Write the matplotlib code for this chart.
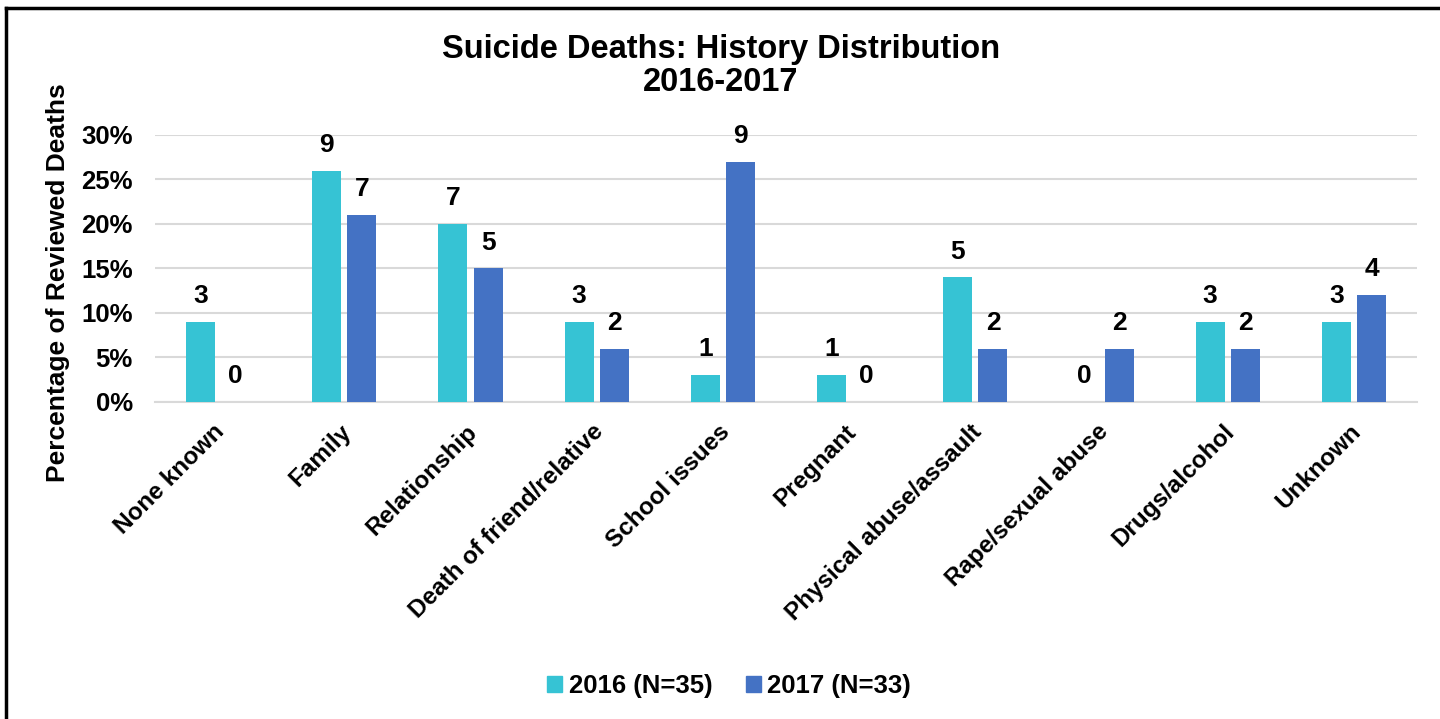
import matplotlib
matplotlib.use("Agg")
import matplotlib.pyplot as plt
import matplotlib.transforms as mtransforms
import numpy as np
from matplotlib.ticker import FuncFormatter
from matplotlib.lines import Line2D
from matplotlib.patches import Patch

plt.rcParams['font.family'] = ['Liberation Sans', 'DejaVu Sans']

categories = ["None known", "Family", "Relationship", "Death of friend/relative",
              "School issues", "Pregnant", "Physical abuse/assault",
              "Rape/sexual abuse", "Drugs/alcohol", "Unknown"]
pct_2016 = [9, 26, 20, 9, 3, 3, 14, 0, 9, 9]
pct_2017 = [0, 21, 15, 6, 27, 0, 6, 6, 6, 12]
cnt_2016 = [3, 9, 7, 3, 1, 1, 5, 0, 3, 3]
cnt_2017 = [0, 7, 5, 2, 9, 0, 2, 2, 2, 4]
series_labels = ["2016 (N=35)", "2017 (N=33)"]
yticks = [0, 5, 10, 15, 20, 25, 30]

c16 = "#36C3D4"
c17 = "#4472C4"

W, H = 1440, 719
fig = plt.figure(figsize=(W / 100, H / 100), dpi=100)
ax = fig.add_axes([155 / W, 1 - 402 / H, (1417 - 155) / W, (402 - 135) / H])

x = np.arange(len(categories))
bw = 0.23
off = 0.14
ax.bar(x - off, pct_2016, bw, color=c16, zorder=3)
ax.bar(x + off, pct_2017, bw, color=c17, zorder=3)

for xs, vals, cnts in ((x - off, pct_2016, cnt_2016), (x + off, pct_2017, cnt_2017)):
    for xi, v, c in zip(xs, vals, cnts):
        ax.annotate(str(c), (xi, v), xytext=(0, 10), textcoords='offset points',
                    ha='center', va='bottom', fontsize=19, fontweight='bold')

ax.set_xlim(-0.5, len(categories) - 0.5)
ax.set_ylim(0, 30)
ax.set_yticks(yticks)
ax.yaxis.set_major_formatter(FuncFormatter(lambda v, p: f"{int(v)}%"))
ax.grid(axis='y', color='#D9D9D9', linewidth=1.5, zorder=0)
for s in ['top', 'right', 'left']:
    ax.spines[s].set_visible(False)
ax.spines['bottom'].set_color('#D9D9D9')
ax.spines['bottom'].set_linewidth(1.5)
ax.tick_params(axis='both', length=0)
ax.tick_params(axis='y', pad=16)
ax.set_xticks(x)
ax.set_xticklabels(categories, rotation=45, ha='right', va='top',
                   rotation_mode='anchor', fontsize=17.5, fontweight='bold')
ax.tick_params(axis='x', pad=13)
shift = mtransforms.ScaledTranslation(-5 / 100, 0, fig.dpi_scale_trans)
for lab in ax.get_xticklabels():
    lab.set_transform(lab.get_transform() + shift)
for lab in ax.get_yticklabels():
    lab.set_fontsize(18.5)
    lab.set_fontweight('bold')

fig.text(58 / W, 1 - 283 / H, "Percentage of Reviewed Deaths", rotation=90,
         ha='center', va='center', fontsize=19, fontweight='bold')

fig.text(721 / W, 1 - 66 / H, "Suicide Deaths: History Distribution\n2016-2017",
         ha='center', va='center', fontsize=23.5, fontweight='bold',
         linespacing=1.12)

handles = [Patch(color=c16), Patch(color=c17)]
fig.legend(handles, series_labels, loc='center', bbox_to_anchor=(729 / W, 1 - 686 / H),
           ncol=2, frameon=False, handlelength=0.6, handleheight=0.6,
           handletextpad=0.25, columnspacing=1.3,
           prop={'size': 18.5, 'weight': 'bold'})

fig.add_artist(Line2D([6.5 / W, 6.5 / W], [0, 1 - 7.5 / H], color='black', linewidth=2.5))
fig.add_artist(Line2D([5.5 / W, 1], [1 - 7.5 / H, 1 - 7.5 / H], color='black', linewidth=2.5))

fig.savefig("out.png", dpi=100)
